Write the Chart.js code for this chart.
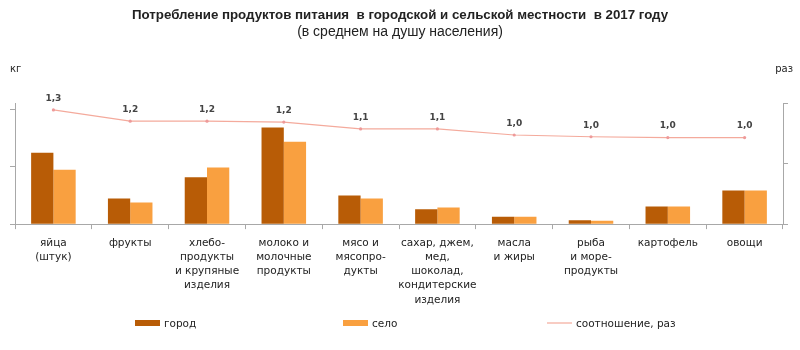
<!DOCTYPE html>
<html lang="ru">
<head>
    <meta charset="UTF-8">
    <title>Потребление продуктов питания</title>
    <script src="https://cdn.jsdelivr.net/npm/chart.js"></script>
    <style>
        html, body { margin: 0; padding: 0; background: #fff; }
        #wrap { width: 800px; height: 350px; }
    </style>
</head>
<body>
    <div id="wrap"><canvas id="foodChart" width="800" height="350"></canvas></div>

    <script>
        // категории (подписи по оси X, построчно)
        const categories = [
            ['яйца', '(штук)'],
            ['фрукты'],
            ['хлебо-', 'продукты', 'и крупяные', 'изделия'],
            ['молоко и', 'молочные', 'продукты'],
            ['мясо и', 'мясопро-', 'дукты'],
            ['сахар, джем,', 'мед,', 'шоколад,', 'кондитерские', 'изделия'],
            ['масла', 'и жиры'],
            ['рыба', 'и море-', 'продукты'],
            ['картофель'],
            ['овощи']
        ];

        // потребление, кг (значения оценены по рисунку)
        const gorod = [125, 45, 82, 169, 50, 26, 13, 7, 31, 59];
        const selo  = [95, 38, 99, 144, 45, 29, 13, 6, 31, 59];

        // соотношение, раз
        const ratio = [1.32, 1.19, 1.19, 1.18, 1.10, 1.10, 1.03, 1.01, 1.00, 1.00];

        // деления осей (без подписей)
        const leftTicks = [0, 100, 200];
        const rightTicks = [0, 0.7, 1.4];

        const axisColor = '#a8a8a8';
        const textColor = '#222';
        const lineColor = '#f4aa9c';

        // заголовки и единицы измерения
        const titlePlugin = {
            id: 'titles',
            afterDraw(chart) {
                const c = chart.ctx;
                c.save();
                c.fillStyle = textColor;
                c.textAlign = 'center';
                c.textBaseline = 'middle';
                c.font = 'bold 13.3px "Liberation Sans"';
                c.fillText('Потребление продуктов питания  в городской и сельской местности  в 2017 году', 400, 15);
                c.font = '14px "Liberation Sans"';
                c.fillText('(в среднем на душу населения)', 400, 32);
                c.font = '10px "DejaVu Sans"';
                c.textAlign = 'left';
                c.fillText('кг', 10, 69);
                c.textAlign = 'right';
                c.fillText('раз', 793, 69);
                c.restore();
            }
        };

        // легенда внизу: три элемента с широкими промежутками
        const legendPlugin = {
            id: 'wideLegend',
            afterDraw(chart) {
                const c = chart.ctx;
                const ds = chart.data.datasets;
                const starts = [135, 343, 547];
                const y = 323;
                c.save();
                c.font = '10.5px "DejaVu Sans"';
                c.textBaseline = 'middle';
                c.textAlign = 'left';
                ds.forEach((d, i) => {
                    const x = starts[i];
                    if (d.type === 'line') {
                        c.strokeStyle = d.borderColor;
                        c.lineWidth = 1.2;
                        c.beginPath();
                        c.moveTo(x, y);
                        c.lineTo(x + 25, y);
                        c.stroke();
                    } else {
                        c.fillStyle = d.backgroundColor;
                        c.fillRect(x, y - 3, 25, 6);
                    }
                    c.fillStyle = textColor;
                    c.fillText(d.label, x + 29, y + 1);
                });
                c.restore();
            }
        };

        // подписи значений над линией соотношения
        const ratioLabels = {
            id: 'ratioLabels',
            afterDatasetsDraw(chart) {
                const c = chart.ctx;
                const meta = chart.getDatasetMeta(2);
                c.save();
                c.fillStyle = '#444';
                c.font = 'bold 9px "DejaVu Sans"';
                c.textAlign = 'center';
                c.textBaseline = 'bottom';
                meta.data.forEach((pt, i) => {
                    c.fillText(ratio[i].toFixed(1).replace('.', ','), pt.x, pt.y - 7);
                });
                c.restore();
            }
        };

        const ctx = document.getElementById('foodChart').getContext('2d');
        const foodChart = new Chart(ctx, {
            type: 'bar',
            data: {
                labels: categories,
                datasets: [{
                    label: 'город',
                    data: gorod,
                    backgroundColor: '#b85c06',
                    yAxisID: 'y',
                    categoryPercentage: 0.58,
                    barPercentage: 1.0,
                    order: 1
                }, {
                    label: 'село',
                    data: selo,
                    backgroundColor: '#f9a040',
                    yAxisID: 'y',
                    categoryPercentage: 0.58,
                    barPercentage: 1.0,
                    order: 1
                }, {
                    type: 'line',
                    label: 'соотношение, раз',
                    data: ratio,
                    yAxisID: 'y1',
                    borderColor: lineColor,
                    backgroundColor: '#ef9a9a',
                    borderWidth: 1.2,
                    pointRadius: 1.6,
                    pointBorderWidth: 0,
                    pointBackgroundColor: '#ee9a9a',
                    tension: 0,
                    order: 0
                }]
            },
            options: {
                responsive: false,
                animation: false,
                layout: { padding: { top: 103, left: 10, right: 12, bottom: 36 } },
                plugins: {
                    title: { display: false },
                    tooltip: { enabled: false },
                    legend: { display: false }
                },
                scales: {
                    x: {
                        offset: true,
                        border: { color: axisColor },
                        grid: {
                            offset: true,
                            drawOnChartArea: false,
                            color: axisColor,
                            tickLength: 5
                        },
                        ticks: {
                            autoSkip: false,
                            maxRotation: 0,
                            padding: 7,
                            color: textColor,
                            font: { family: '"DejaVu Sans"', size: 10.5, lineHeight: 1.35 }
                        }
                    },
                    y: {
                        position: 'left',
                        min: 0,
                        max: 212,
                        afterBuildTicks: axis => { axis.ticks = leftTicks.map(v => ({ value: v })); },
                        border: { color: axisColor },
                        grid: { drawOnChartArea: false, color: axisColor, tickLength: 5 },
                        ticks: { display: false }
                    },
                    y1: {
                        position: 'right',
                        min: 0,
                        max: 1.4,
                        afterBuildTicks: axis => { axis.ticks = rightTicks.map(v => ({ value: v })); },
                        border: { color: axisColor },
                        grid: { drawOnChartArea: false, color: axisColor, tickLength: 5 },
                        ticks: { display: false }
                    }
                }
            },
            plugins: [titlePlugin, ratioLabels, legendPlugin]
        });
    </script>
</body>
</html>
